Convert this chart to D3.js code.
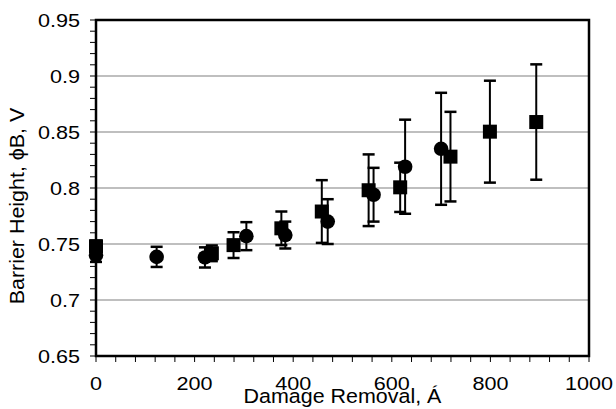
<!DOCTYPE html>
<html>
<head>
<meta charset="utf-8">
<script src="https://cdn.jsdelivr.net/npm/d3@7"></script>
<style>
  body { margin: 0; background: #fff; }
  text { font-family: "Liberation Sans", Arial, sans-serif; fill: #000; }
</style>
</head>
<body>
<div id="chart"></div>
<script>
// circles series
var circleX = [0, 123, 221, 305, 384, 470, 563, 627, 700];
var circleY = [0.740, 0.7385, 0.738, 0.757, 0.758, 0.770, 0.794, 0.819, 0.835];
var circleErr = [0.006, 0.009, 0.009, 0.0125, 0.012, 0.020, 0.024, 0.042, 0.050];

// squares series
var squareX = [0, 235, 279, 376, 458, 553, 617, 719, 799, 893];
var squareY = [0.748, 0.7417, 0.749, 0.764, 0.779, 0.798, 0.8006, 0.828, 0.8503, 0.8589];
var squareErr = [0.005, 0.007, 0.0115, 0.015, 0.028, 0.032, 0.022, 0.040, 0.0455, 0.0515];

var xTicks = [0, 200, 400, 600, 800, 1000];
var yTicks = [0.65, 0.7, 0.75, 0.8, 0.85, 0.9, 0.95];

var svg = d3.select("#chart")
    .append("svg")
    .attr("width", 616)
    .attr("height", 409),
    margin = { top: 20, right: 27, bottom: 53, left: 96 },
    width = +svg.attr("width") - margin.left - margin.right,
    height = +svg.attr("height") - margin.top - margin.bottom;

var x = d3.scaleLinear().domain([0, 1000]).range([0, width]);
var y = d3.scaleLinear().domain([0.65, 0.95]).range([height, 0]);

var g = svg.append("g")
    .attr("transform", "translate(" + margin.left + "," + margin.top + ")");

// grid lines
g.selectAll(".grid")
    .data(yTicks.slice(1, -1))
    .enter().append("line")
    .attr("x1", 0).attr("x2", width)
    .attr("y1", function (d) { return y(d); })
    .attr("y2", function (d) { return y(d); })
    .attr("stroke", "#808080")
    .attr("stroke-width", 1.2);

// minor + major ticks
var xMinor = d3.range(0, 1000.1, 40);
var yMinor = d3.range(0, 31).map(function (i) { return 0.65 + i * 0.01; });

g.selectAll(".xt")
    .data(xMinor)
    .enter().append("line")
    .attr("x1", function (d) { return x(d); })
    .attr("x2", function (d) { return x(d); })
    .attr("y1", height).attr("y2", height + 6)
    .attr("stroke", "#000").attr("stroke-width", 1);

g.selectAll(".yt")
    .data(yMinor)
    .enter().append("line")
    .attr("x1", -6).attr("x2", 0)
    .attr("y1", function (d) { return y(d); })
    .attr("y2", function (d) { return y(d); })
    .attr("stroke", "#000").attr("stroke-width", 1);

// tick labels
g.selectAll(".xl")
    .data(xTicks)
    .enter().append("text")
    .attr("transform", function (d) { return "translate(" + x(d) + "," + (height + 34) + ") scale(1.2,1)"; })
    .attr("text-anchor", "middle")
    .style("font-size", "18px")
    .text(function (d) { return d; });

g.selectAll(".yl")
    .data(yTicks)
    .enter().append("text")
    .attr("transform", function (d) { return "translate(-16," + (y(d) + 6.5) + ") scale(1.2,1)"; })
    .attr("text-anchor", "end")
    .style("font-size", "18px")
    .text(function (d) { return d3.format(".2~f")(d); });

// frame
g.append("rect")
    .attr("width", width).attr("height", height)
    .attr("fill", "none")
    .attr("stroke", "#000").attr("stroke-width", 2.5);

// error bars
function errorBars(xs, ys, es) {
    var eb = g.append("g");
    xs.forEach(function (xv, i) {
        var px = x(xv), lo = y(ys[i] - es[i]), hi = y(ys[i] + es[i]);
        eb.append("line").attr("x1", px).attr("x2", px).attr("y1", lo).attr("y2", hi)
            .attr("stroke", "#000").attr("stroke-width", 2);
        [lo, hi].forEach(function (yy) {
            eb.append("line").attr("x1", px - 6).attr("x2", px + 6).attr("y1", yy).attr("y2", yy)
                .attr("stroke", "#000").attr("stroke-width", 2.5);
        });
    });
}
errorBars(circleX, circleY, circleErr);
errorBars(squareX, squareY, squareErr);

// markers
g.selectAll(".sq")
    .data(squareX)
    .enter().append("rect")
    .attr("x", function (d) { return x(d) - 7; })
    .attr("y", function (d, i) { return y(squareY[i]) - 7; })
    .attr("width", 14).attr("height", 14)
    .attr("fill", "#000");

g.selectAll(".ci")
    .data(circleX)
    .enter().append("circle")
    .attr("cx", function (d) { return x(d); })
    .attr("cy", function (d, i) { return y(circleY[i]); })
    .attr("r", 7.3)
    .attr("fill", "#000");

// axis titles
svg.append("text")
    .attr("transform", "translate(" + (margin.left + width / 2) + ",403) scale(1.1,1)")
    .attr("text-anchor", "middle")
    .style("font-size", "19.5px")
    .text("Damage Removal, Á");

svg.append("text")
    .attr("transform", "translate(24,206) rotate(-90) scale(1.1,1)")
    .attr("text-anchor", "middle")
    .style("font-size", "19.5px")
    .text("Barrier Height, ϕB, V");
</script>
</body>
</html>
